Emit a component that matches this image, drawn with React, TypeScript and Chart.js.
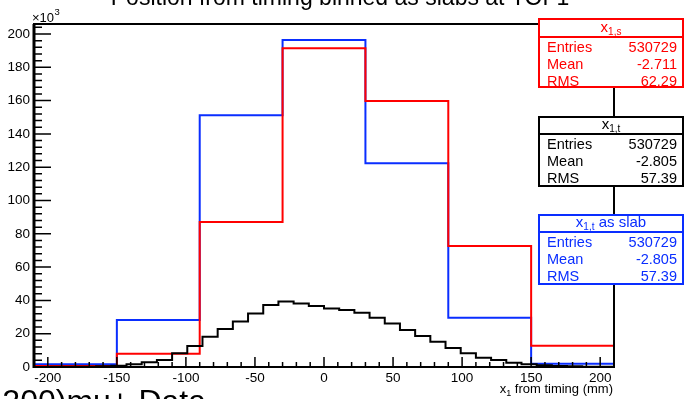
import React, { useEffect, useRef } from "react";
import { Chart, registerables } from "chart.js";

Chart.register(...registerables);

const FONT = "'Liberation Sans', Arial, Helvetica, sans-serif";

// Coarse (slab) binning, mm
const coarseEdges = [-210, -150, -90, -30, 30, 90, 150, 210];
// x_{1,t} as slab (blue), thousands of entries
const slabValues = [1.6, 28.2, 151.2, 196.4, 122.4, 29.6, 2.0];
// x_{1,s} (red), thousands of entries
const sValues = [0.6, 8.0, 87.1, 191.4, 159.8, 72.6, 12.8];

// Fine binning for x_{1,t} (black), mm
const fineEdges = [
  -220, -209, -198, -187, -176, -165, -154, -143, -132, -121,
  -110, -99, -88, -77, -66, -55, -44, -33, -22, -11,
  0, 11, 22, 33, 44, 55, 66, 77, 88, 99,
  110, 121, 132, 143, 154, 165, 176, 187, 198, 209, 220,
];
const tValues = [
  0.05, 0.05, 0.1, 0.1, 0.2, 0.4, 0.8, 1.6, 2.8, 4.2,
  8.2, 12.6, 18.2, 22.8, 27.4, 32.2, 37.2, 39.4, 38.2, 36.6,
  35.2, 34.2, 32.6, 29.6, 26.2, 22.2, 18.6, 15.2, 11.4, 8.2,
  5.6, 4.2, 2.6, 1.6, 1.0, 0.6, 0.4, 0.2, 0.1, 0.05,
];

const xTickValues = [-200, -150, -100, -50, 0, 50, 100, 150, 200];
const yTickValues = [0, 20, 40, 60, 80, 100, 120, 140, 160, 180, 200];

const statLabels = ["Entries", "Mean", "RMS"];
const statS = ["530729", "-2.711", "62.29"];
const statT = ["530729", "-2.805", "57.39"];
const statSlab = ["530729", "-2.805", "57.39"];

const TITLE = "Position from timing binned as slabs at TOF1";
const BOTTOM_TEXT = "200)mu+ Data";

const RED = "#ff0000";
const BLUE = "#0a2eff";
const BLACK = "#000000";

function stepPoints(edges: number[], values: number[]) {
  const pts = values.map((v, i) => ({ x: edges[i], y: v }));
  pts.push({ x: edges[edges.length - 1], y: values[values.length - 1] });
  return pts;
}

function drawStatBox(
  ctx: CanvasRenderingContext2D,
  color: string,
  top: number,
  divider: number,
  bottom: number,
  title: string,
  sub: string,
  rest: string,
  vals: string[]
) {
  const L = 539;
  const R = 683;
  ctx.fillStyle = "#ffffff";
  ctx.fillRect(L, top, R - L, bottom - top);
  ctx.strokeStyle = color;
  ctx.lineWidth = 2;
  ctx.strokeRect(L, top, R - L, bottom - top);
  ctx.beginPath();
  ctx.moveTo(L, divider);
  ctx.lineTo(R, divider);
  ctx.stroke();

  ctx.fillStyle = color;
  ctx.textAlign = "left";
  ctx.textBaseline = "alphabetic";
  ctx.font = `15px ${FONT}`;
  const w1 = ctx.measureText(title).width;
  const w3 = ctx.measureText(rest).width;
  ctx.font = `10px ${FONT}`;
  const w2 = ctx.measureText(sub).width;
  let x = (L + R) / 2 - (w1 + w2 + w3) / 2;
  const base = divider - 5;
  ctx.font = `15px ${FONT}`;
  ctx.fillText(title, x, base);
  x += w1;
  ctx.font = `10px ${FONT}`;
  ctx.fillText(sub, x, base + 3);
  x += w2;
  ctx.font = `15px ${FONT}`;
  ctx.fillText(rest, x, base);

  ctx.font = `14.5px ${FONT}`;
  statLabels.forEach((lab, i) => {
    const y = divider + 15 + 17 * i;
    ctx.textAlign = "left";
    ctx.fillText(lab, 547, y);
    ctx.textAlign = "right";
    ctx.fillText(vals[i], 677, y);
  });
}

const decorPlugin = {
  id: "rootDecor",
  afterDatasetsDraw(chart: any) {
    const { ctx, chartArea: a } = chart;
    const xs = chart.scales.x;
    const ys = chart.scales.y;
    ctx.save();
    ctx.strokeStyle = "#000";
    ctx.lineWidth = 1.5;
    ctx.beginPath();
    for (let v = -210; v <= 210; v += 10) {
      const px = xs.getPixelForValue(v);
      const major = v % 50 === 0;
      ctx.moveTo(px, a.bottom);
      ctx.lineTo(px, a.bottom - (major ? 10 : 5));
    }
    for (let v = 0; v <= 204; v += 4) {
      const py = ys.getPixelForValue(v);
      const major = v % 20 === 0;
      ctx.moveTo(a.left, py);
      ctx.lineTo(a.left + (major ? 17 : 8), py);
    }
    ctx.stroke();
    ctx.lineWidth = 2;
    ctx.strokeRect(a.left, a.top, a.right - a.left, a.bottom - a.top);
    ctx.lineWidth = 3;
    ctx.beginPath();
    ctx.moveTo(a.left, a.top);
    ctx.lineTo(a.left, a.bottom + 1);
    ctx.stroke();
    ctx.restore();
  },
  afterDraw(chart: any) {
    const { ctx, chartArea: a } = chart;
    ctx.save();
    drawStatBox(ctx, RED, 19, 37, 87, "x", "1,s", "", statS);
    drawStatBox(ctx, BLACK, 117, 134, 186, "x", "1,t", "", statT);
    drawStatBox(ctx, BLUE, 215, 232, 284, "x", "1,t", " as slab", statSlab);

    // x10^3
    ctx.fillStyle = "#000";
    ctx.textAlign = "left";
    ctx.textBaseline = "alphabetic";
    ctx.font = `13px ${FONT}`;
    ctx.fillText("\u00d710", 32, 21.5);
    const w = ctx.measureText("\u00d710").width;
    ctx.font = `9.5px ${FONT}`;
    ctx.fillText("3", 32 + w + 0.5, 15);

    // axis title
    ctx.font = `13px ${FONT}`;
    const rest = " from timing (mm)";
    const wr = ctx.measureText(rest).width;
    ctx.font = `9px ${FONT}`;
    const ws = ctx.measureText("1").width;
    ctx.font = `13px ${FONT}`;
    const wx = ctx.measureText("x").width;
    const right = a.right - 1;
    let x = right - wr - ws - wx;
    ctx.fillText("x", x, 393);
    x += wx;
    ctx.font = `9px ${FONT}`;
    ctx.fillText("1", x, 396);
    x += ws;
    ctx.font = `13px ${FONT}`;
    ctx.fillText(rest, x, 393);

    // title (cut at top)
    ctx.font = `23px ${FONT}`;
    ctx.textAlign = "center";
    ctx.fillText(TITLE, 340, 5);

    // bottom text (cut)
    ctx.font = `32px ${FONT}`;
    ctx.textAlign = "right";
    ctx.fillText(BOTTOM_TEXT, 206, 412);
    ctx.restore();
  },
};

export default function App() {
  const ref = useRef<HTMLCanvasElement | null>(null);
  useEffect(() => {
    if (!ref.current) return;
    Chart.defaults.font.family = FONT;
    const chart = new Chart(ref.current, {
      type: "line",
      data: {
        datasets: [
          {
            label: "x1,t",
            data: stepPoints(fineEdges, tValues),
            borderColor: BLACK,
            borderWidth: 2,
            stepped: "before",
            pointRadius: 0,
            fill: false,
          },
          {
            label: "x1,s",
            data: stepPoints(coarseEdges, sValues),
            borderColor: RED,
            borderWidth: 2,
            stepped: "before",
            pointRadius: 0,
            fill: false,
          },
          {
            label: "x1,t as slab",
            data: stepPoints(coarseEdges, slabValues),
            borderColor: BLUE,
            borderWidth: 2,
            stepped: "before",
            pointRadius: 0,
            fill: false,
          },
        ],
      },
      options: {
        animation: false,
        responsive: false,
        events: [],
        layout: { padding: { left: 0, right: 70, top: 24, bottom: 0 } },
        plugins: {
          legend: { display: false },
          title: { display: false },
          tooltip: { enabled: false },
        },
        scales: {
          x: {
            type: "linear",
            min: -210,
            max: 210,
            grid: { display: false, drawTicks: false },
            border: { display: false },
            afterBuildTicks: (s: any) => {
              s.ticks = xTickValues.map((v) => ({ value: v }));
            },
            afterFit: (s: any) => {
              s.height = 32;
            },
            ticks: {
              color: "#000",
              font: { size: 13.5 },
              padding: 3,
              maxRotation: 0,
              autoSkip: false,
            },
          },
          y: {
            type: "linear",
            min: 0,
            max: 206,
            grid: { display: false, drawTicks: false },
            border: { display: false },
            afterBuildTicks: (s: any) => {
              s.ticks = yTickValues.map((v) => ({ value: v }));
            },
            afterFit: (s: any) => {
              s.width = 34;
            },
            ticks: {
              color: "#000",
              font: { size: 13.5 },
              padding: 4,
              autoSkip: false,
            },
          },
        },
      },
      plugins: [decorPlugin],
    } as any);
    return () => chart.destroy();
  }, []);
  return (
    <div style={{ position: "fixed", left: 0, top: 0, width: 684, height: 399, background: "#fff" }}>
      <canvas ref={ref} width={684} height={399} style={{ display: "block" }} />
    </div>
  );
}
